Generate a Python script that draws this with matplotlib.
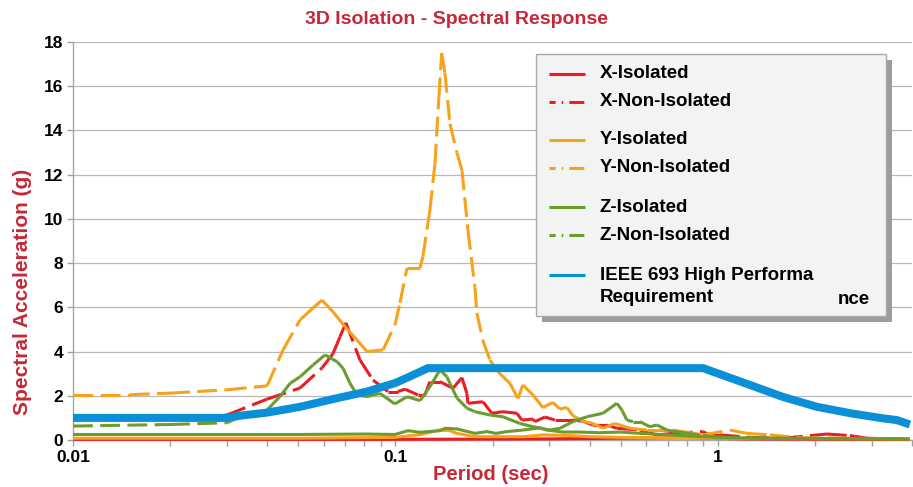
import numpy as np
import matplotlib
matplotlib.use("Agg")
import matplotlib.pyplot as plt
from matplotlib.collections import LineCollection
from matplotlib.lines import Line2D
from matplotlib.patches import Rectangle
from matplotlib.ticker import FixedLocator, FixedFormatter, NullFormatter

# ------------------------------------------------------------------------------
# data (period in sec, spectral acceleration in g)

ieee_t = [0.01, 0.02, 0.03, 0.033, 0.04, 0.0506, 0.064, 0.0816, 0.0996, 0.11, 0.126,
          0.3, 0.6, 0.9, 1.257, 1.59, 2.03, 2.6, 3.25, 3.59, 3.94]
ieee_v = [1.0, 1.0, 1.0, 1.1, 1.24, 1.5, 1.85, 2.19, 2.57, 2.85, 3.25,
          3.25, 3.25, 3.25, 2.49, 1.95, 1.5, 1.2, 0.98, 0.9, 0.7]

x_iso_t = [0.01, 0.1, 0.3, 0.5, 0.8, 1.2, 3.94]
x_iso_v = [0.03, 0.03, 0.05, 0.08, 0.1, 0.05, 0.02]

x_non_t = [0.01, 0.02, 0.03, 0.04, 0.0506, 0.0592, 0.064, 0.0673, 0.0702, 0.0776, 0.0852,
           0.0948, 0.1018, 0.107, 0.1174, 0.1235, 0.1279, 0.1374, 0.1508, 0.1608, 0.1666,
           0.1678, 0.1867, 0.1991, 0.2154, 0.2381, 0.2467, 0.2669, 0.2707, 0.2908, 0.3123,
           0.3551, 0.3814, 0.4097, 0.4527, 0.4861, 0.5729, 0.647, 0.7252, 0.8985, 0.94,
           1.0144, 1.2566, 1.591, 2.178, 2.567, 2.897, 3.94]
x_non_v = [1.0, 1.0, 1.13, 1.85, 2.35, 3.26, 3.9, 4.67, 5.3, 3.62, 2.71,
           2.19, 2.19, 2.3, 2.04, 2.04, 2.64, 2.64, 2.34, 2.82, 2.1,
           1.66, 1.73, 1.21, 1.28, 1.21, 0.9, 0.95, 0.83, 1.04, 0.9,
           0.9, 0.85, 0.68, 0.68, 0.53, 0.45, 0.23, 0.3, 0.38, 0.23,
           0.23, 0.12, 0.08, 0.27, 0.2, 0.08, 0.02]

y_iso_t = [0.01, 0.05, 0.1, 0.12, 0.1364, 0.1476, 0.1551, 0.1764, 0.25, 0.2866, 0.35,
           0.4, 0.5, 1.0, 3.94]
y_iso_v = [0.08, 0.08, 0.12, 0.25, 0.45, 0.42, 0.3, 0.15, 0.15, 0.23, 0.2,
           0.15, 0.12, 0.08, 0.05]

y_non_t = [0.01, 0.015, 0.02, 0.03, 0.04, 0.0448, 0.0506, 0.0555, 0.0592, 0.064, 0.0697,
           0.076, 0.0816, 0.0915, 0.0996, 0.1033, 0.1086, 0.1191, 0.1217, 0.1279, 0.1326,
           0.1364, 0.1391, 0.1424, 0.1476, 0.1551, 0.1608, 0.1678, 0.1764, 0.1789, 0.1867,
           0.1963, 0.2078, 0.2265, 0.2398, 0.2485, 0.2669, 0.2866, 0.3078, 0.3236, 0.3402,
           0.3551, 0.3814, 0.4097, 0.44, 0.4792, 0.5335, 0.6023, 0.7252, 0.779, 0.8985,
           1.0895, 1.23, 1.449, 1.8, 3.94]
y_non_v = [2.05, 2.05, 2.12, 2.27, 2.45, 4.07, 5.43, 5.97, 6.33, 5.8, 5.13,
           4.52, 4.0, 4.07, 5.2, 6.2, 7.78, 7.78, 8.3, 10.4, 12.5,
           15.5, 17.5, 16.6, 14.3, 13.0, 12.2, 9.5, 6.9, 5.75, 4.5,
           3.62, 3.09, 2.56, 1.88, 2.49, 2.04, 1.47, 1.7, 1.4, 1.47,
           1.1, 0.85, 0.75, 0.53, 0.75, 0.53, 0.45, 0.45, 0.38, 0.23,
           0.45, 0.3, 0.23, 0.1, 0.05]

z_iso_t = [0.01, 0.05, 0.08, 0.0996, 0.1094, 0.1191, 0.1374, 0.1424, 0.1551, 0.1764, 0.1921,
           0.205, 0.2216, 0.2485, 0.2806, 0.2946, 0.3306, 0.37, 0.43, 0.4967, 0.5729,
           0.8985, 1.3, 3.94]
z_iso_v = [0.25, 0.25, 0.27, 0.25, 0.42, 0.35, 0.42, 0.53, 0.5, 0.3, 0.38,
           0.3, 0.38, 0.45, 0.55, 0.45, 0.36, 0.36, 0.33, 0.36, 0.3,
           0.15, 0.08, 0.05]

z_non_t = [0.01, 0.02, 0.03, 0.033, 0.04, 0.0438, 0.0471, 0.0506, 0.0555, 0.0605, 0.0659,
           0.0688, 0.0723, 0.076, 0.0816, 0.0895, 0.0996, 0.1086, 0.1191, 0.1279, 0.1374,
           0.1444, 0.1476, 0.1551, 0.1666, 0.1764, 0.1963, 0.2154, 0.2432, 0.2669, 0.3013,
           0.3236, 0.3551, 0.3925, 0.44, 0.4861, 0.5038, 0.5222, 0.5451, 0.5729, 0.6153,
           0.647, 0.6949, 0.7625, 0.8985, 1.0, 1.5, 3.94]
z_non_v = [0.63, 0.7, 0.78, 1.05, 1.36, 1.96, 2.56, 2.86, 3.39, 3.85, 3.54,
           3.24, 2.56, 2.04, 1.96, 2.11, 1.63, 1.96, 1.78, 2.41, 3.17,
           2.86, 2.56, 1.9, 1.44, 1.28, 1.13, 1.05, 0.75, 0.6, 0.45,
           0.53, 0.83, 1.05, 1.21, 1.66, 1.36, 0.9, 0.83, 0.83, 0.6,
           0.68, 0.45, 0.35, 0.2, 0.12, 0.08, 0.05]

legend_labels = ["X-Isolated", "X-Non-Isolated", "Y-Isolated", "Y-Non-Isolated",
                 "Z-Isolated", "Z-Non-Isolated", "IEEE 693 High Performa"]

RED = "#ec1c24"
ORANGE = "#f8a21c"
GREEN = "#6a9c2f"
BLUE = "#0b8fd7"
TITLE_RED = "#c62838"

W, H = 913, 487

def fx(px):
  return px / W

def fy(py):
  return 1 - py / H

# ------------------------------------------------------------------------------

def draw_solid(ax, t, v, color, lw, z):
  ax.plot(t, v, color=color, lw=lw, solid_joinstyle="round", solid_capstyle="butt",
          zorder=z, clip_on=False)

def draw_dashed(ax, t, v, color, lw, z):
  # dash pattern restarts on every segment, like the original export
  pts = np.column_stack([t, v])
  segs = np.stack([pts[:-1], pts[1:]], axis=1)
  lc = LineCollection(segs, colors=color, linewidths=lw, linestyles=[(0, (6.5, 2.4))],
                      capstyle="butt", joinstyle="round", zorder=z, clip_on=False)
  ax.add_collection(lc)

plt.rcParams["font.family"] = ["Liberation Sans", "DejaVu Sans"]
plt.rcParams["font.weight"] = "bold"

fig = plt.figure(figsize=(W / 100, H / 100), dpi=100)
ax = fig.add_axes([fx(73), fy(440), (912 - 73) / W, (440 - 42) / H])
ax.set_xscale("log")
ax.set_xlim(0.01, 4.0)
ax.set_ylim(0, 18)

lw = 2.2
draw_solid(ax, x_iso_t, x_iso_v, RED, lw, 3)
draw_dashed(ax, x_non_t, x_non_v, RED, lw, 3)
draw_solid(ax, y_iso_t, y_iso_v, ORANGE, lw, 3.2)
draw_dashed(ax, y_non_t, y_non_v, ORANGE, lw, 3.2)
draw_solid(ax, z_iso_t, z_iso_v, GREEN, lw, 3.4)
draw_dashed(ax, z_non_t, z_non_v, GREEN, lw, 3.4)
draw_solid(ax, ieee_t, ieee_v, BLUE, 5.8, 5)

ax.set_yticks(np.arange(0, 19, 2))
ax.yaxis.grid(True, color="#b8b8b8", lw=0.9)
ax.set_axisbelow(True)
ax.xaxis.set_major_locator(FixedLocator([0.01, 0.1, 1]))
ax.xaxis.set_major_formatter(FixedFormatter(["0.01", "0.1", "1"]))
ax.xaxis.set_minor_formatter(NullFormatter())
for s in ["top", "right"]:
  ax.spines[s].set_visible(False)
for s in ["left", "bottom"]:
  ax.spines[s].set_color("#a8a8a8")
  ax.spines[s].set_linewidth(1)
ax.tick_params(axis="both", which="both", direction="out", color="#a0a0a0",
               length=4, width=1, labelsize=12.5, pad=3)

fig.text(0.5, fy(20), "3D Isolation - Spectral Response", color=TITLE_RED,
         fontsize=14, ha="center", va="center")
fig.text(fx(491), fy(474), "Period (sec)", color=TITLE_RED, fontsize=14.5,
         ha="center", va="center")
fig.text(fx(23), fy(292), "Spectral Acceleration (g)", color=TITLE_RED, fontsize=15,
         ha="center", va="center", rotation=90)

# legend box, drawn by hand to keep the original spacing
fig.add_artist(Rectangle((fx(542), fy(322)), (892 - 542) / W, (322 - 60) / H,
                         transform=fig.transFigure, facecolor="#9d9d9f", edgecolor="none"))
fig.add_artist(Rectangle((fx(536), fy(316)), (886 - 536) / W, (316 - 54) / H,
                         transform=fig.transFigure, facecolor="#f2f3f3", edgecolor="#a9a9a9",
                         lw=1))

rows_y = [74, 102, 140, 168, 207, 235, 275]
row_colors = [RED, RED, ORANGE, ORANGE, GREEN, GREEN, BLUE]
row_dashed = [False, True, False, True, False, True, False]
for label, py, c, dashed in zip(legend_labels, rows_y, row_colors, row_dashed):
  ls = (0, (2.0, 2.0, 0.5, 2.0, 4.9, 0.4)) if dashed else "-"
  fig.add_artist(Line2D([fx(549), fx(585)], [fy(py), fy(py)], transform=fig.transFigure,
                        color=c, lw=lw, linestyle=ls, solid_capstyle="butt",
                        dash_capstyle="butt"))
  fig.text(fx(600), fy(py), label, fontsize=13.5, ha="left", va="center")
fig.text(fx(600), fy(298), "Requirement", fontsize=13.5, ha="left", va="center")
fig.text(fx(838), fy(299), "nce", fontsize=13.5, ha="left", va="center")

fig.savefig("out.png", dpi=100)
